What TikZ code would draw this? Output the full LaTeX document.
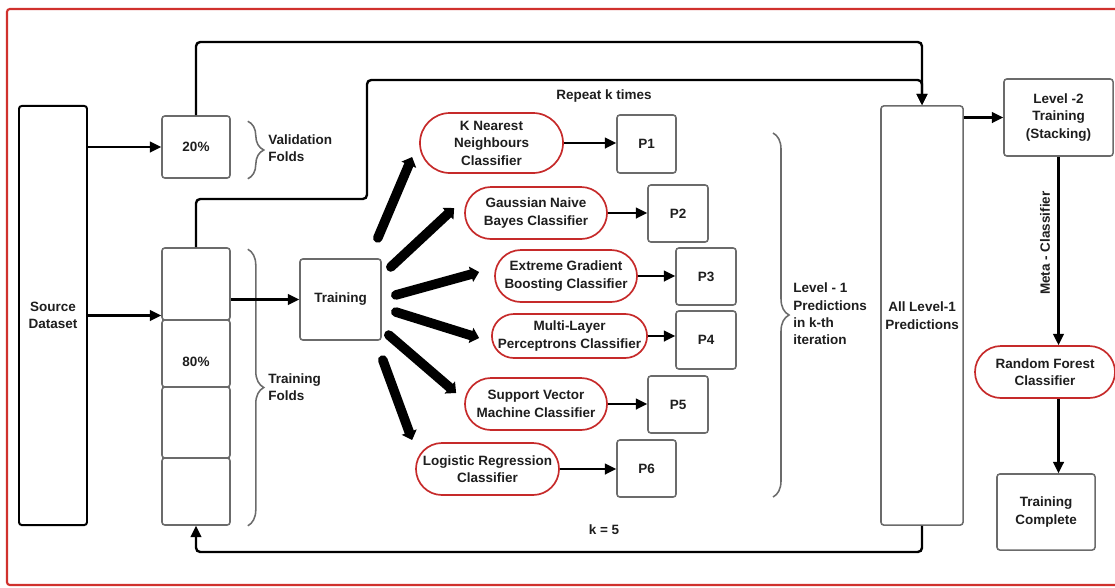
\documentclass[tikz,border=0pt]{standalone}
\usepackage{fontspec}
\setmainfont{Liberation Sans}
\usetikzlibrary{positioning,arrows.meta,shapes.misc,decorations.pathreplacing}
\definecolor{framered}{HTML}{D0312D}
\definecolor{clfred}{HTML}{C62A2A}
\definecolor{boxgray}{HTML}{6B6B6B}
\definecolor{ink}{HTML}{1E1E1E}
\tikzset{
  every node/.style={text=ink, font=\fontsize{9.6}{12.4}\selectfont\bfseries, align=center, inner sep=0pt},
  box/.style={draw=boxgray, line width=1.1pt, rounded corners=2pt, fill=white},
  clf/.style={draw=clfred, line width=1.2pt, rounded rectangle, fill=white},
  arr/.style={draw=black, line width=1.7pt, -{Triangle[length=8pt,width=7.5pt]}},
  fat/.style={draw=black, line width=6.8pt, line cap=round, -{Triangle[length=6pt,width=11pt]}},
  brc/.style={draw=boxgray, line width=1.1pt, decorate, decoration={brace, amplitude=0.4cm}},
  lbl/.style={anchor=west, align=left}
}

\begin{document}
\begin{tikzpicture}[x=0.025cm, y=-0.025cm]
  \useasboundingbox (0,0) rectangle (1115,587);
  % outer frame
  \draw[framered, line width=1.5pt, rounded corners=2pt] (1115,9) -- (7,9) -- (7,585) -- (1115,585);

  % data split
  \node[box, draw=black, line width=1.4pt, minimum width=1.7cm, minimum height=10.475cm] (src) at (53,315.5) {Source\\Dataset};
  \node[box, minimum width=1.7cm, minimum height=1.55cm] (p20) at (196,147) {20\%};
  \node[box, minimum width=1.7cm, minimum height=1.8cm] (seg1) at (196,284) {};
  \node[box, minimum width=1.7cm, minimum height=1.675cm] (seg2) at (196,353.5) {};
  \node[box, minimum width=1.7cm, minimum height=1.775cm] (seg3) at (196,422.5) {};
  \node[box, minimum width=1.7cm, minimum height=1.675cm] (seg4) at (196,491.5) {};
  \node (pct) at (196,362) {80\%};
  \draw[brc] ([shift={(17,6)}]p20.north east) -- ([shift={(17,0)}]p20.south east);
  \draw[brc] ([shift={(17,2)}]seg1.north east) -- ([shift={(17,0)}]seg4.south east);
  \node[lbl] (valtxt) at (268,148) {Validation\\Folds};
  \node[lbl] (traintxt) at (268,387) {Training\\Folds};

  \node[box, minimum width=2.025cm, minimum height=2.025cm] (train) at (340.5,299.5) {Training};

  % base classifiers
  \node[clf, minimum width=3.575cm, minimum height=1.5cm] (knn) at (491.5,143) {K Nearest\\Neighbours\\Classifier};
  \node[clf, minimum width=3.55cm, minimum height=1.3cm] (gnb) at (536,213) {Gaussian Naive\\Bayes Classifier};
  \node[clf, minimum width=3.55cm, minimum height=1.3cm] (xgb) at (566,276) {Extreme Gradient\\Boosting Classifier};
  \node[clf, minimum width=3.875cm, minimum height=1.1cm] (mlp) at (569.5,336) {Multi-Layer\\Perceptrons Classifier};
  \node[clf, minimum width=3.55cm, minimum height=1.3cm] (svm) at (536,404) {Support Vector\\Machine Classifier};
  \node[clf, minimum width=3.575cm, minimum height=1.3cm] (lr) at (487.5,469) {Logistic Regression\\Classifier};

  \node[box, minimum width=1.475cm, minimum height=1.45cm] (pa) at (646.5,144) {P1};
  \node[box, minimum width=1.5cm, minimum height=1.425cm] (pb) at (678,213.5) {P2};
  \node[box, minimum width=1.5cm, minimum height=1.425cm] (pc) at (706,276.5) {P3};
  \node[box, minimum width=1.5cm, minimum height=1.45cm] (pd) at (706,340) {P4};
  \node[box, minimum width=1.5cm, minimum height=1.425cm] (pe) at (678,404.5) {P5};
  \node[box, minimum width=1.475cm, minimum height=1.425cm] (pf) at (646.5,468.5) {P6};

  \node (repeat) at (604,96) {Repeat k times};
  \node (kval) at (604,530) {k = 5};

  \draw[brc] (773,133) -- (773,497);
  \node[lbl] (lvl1txt) at (793,314) {Level - 1\\Predictions\\in k-th\\iteration};

  % meta level
  \node[box, minimum width=2.05cm, minimum height=10.475cm] (all) at (922,315.5) {All Level-1\\Predictions};
  \node[box, minimum width=2.725cm, minimum height=1.925cm] (lvl2) at (1058.5,117.5) {Level -2\\Training\\(Stacking)};
  \node[clf, minimum width=3.5cm, minimum height=1.3cm] (rf) at (1045,372) {Random Forest\\Classifier};
  \node[box, minimum width=2.45cm, minimum height=1.9cm] (done) at (1046,512) {Training\\Complete};
  \node[rotate=90] (metatxt) at (1045,243) {Meta - Classifier};

  \coordinate (topA) at (922,42);
  \coordinate (bendB) at (367,199);
  \coordinate (topB) at (922,80);
  \coordinate (botC) at (196,552);

  % connectors
  \draw[arr] (src.east |- p20.west) -- (p20.west);
  \draw[arr] (src.east) -- (src.east -| seg1.west);
  \draw[arr] (train.west -| seg1.east) -- (train.west);
  \draw[arr, rounded corners=3pt] (p20.north) |- (topA) -- (all.north);
  \draw[arr, rounded corners=3pt] (seg1.north) |- (bendB) |- (topB) -- (all.north);
  \draw[arr, rounded corners=3pt] (all.south) |- (botC) -- (seg4.south);

  \foreach \c/\sx/\sy/\ex/\ey in {knn/-4/-61.5/-7/14, gnb/9/-32.5/-10/-5, xgb/14/-4.5/-15/-4,
      mlp/14/12.5/-12/2, svm/7/35.5/-8/-11, lr/1/60.5/-3/-29}
    \draw[fat] ([shift={(\sx,\sy)}]train.east) -- ([shift={(\ex,\ey)}]\c.west);

  \foreach \c/\p in {knn/pa, gnb/pb, xgb/pc, mlp/pd, svm/pe, lr/pf}
    \draw[arr] (\c.east) -- (\c.east -| \p.west);

  \draw[arr] (all.east |- lvl2.west) -- (lvl2.west);
  \draw[arr] (lvl2.south) -- (lvl2.south |- rf.north);
  \draw[arr] (lvl2.south |- rf.south) -- (lvl2.south |- done.north);
\end{tikzpicture}
\end{document}
